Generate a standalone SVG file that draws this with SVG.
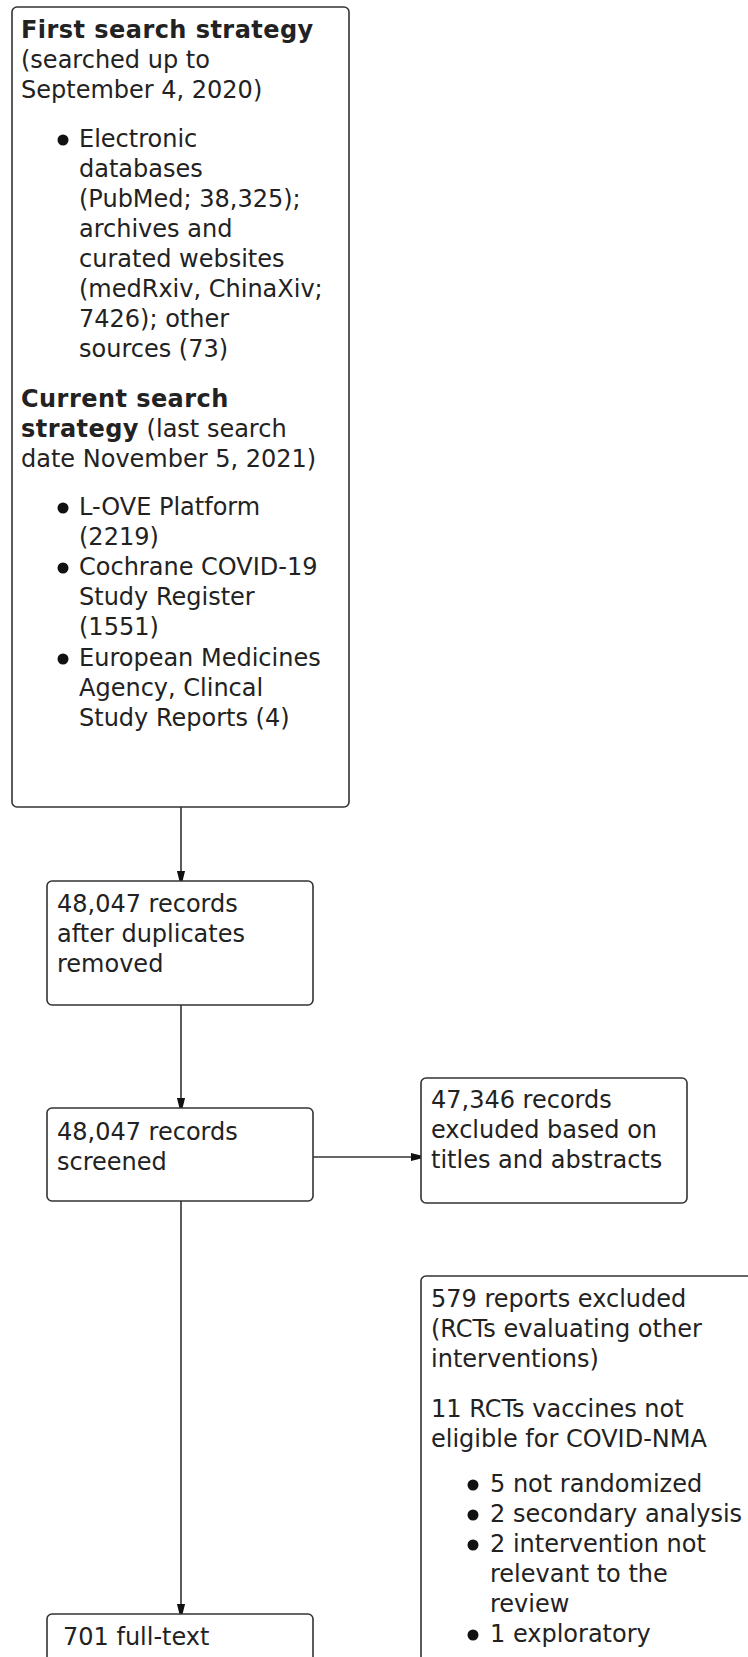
<svg xmlns="http://www.w3.org/2000/svg" width="748" height="1657" viewBox="0 0 748 1657">
<defs>
<style>
.box{fill:#fff;stroke:#333;stroke-width:1.6}
.t{font-family:"DejaVu Sans",Verdana,sans-serif;font-size:24px;fill:#222}
.b{font-weight:bold;letter-spacing:0.45px}
.dot{fill:#111}
.edge{fill:none;stroke:#333;stroke-width:1.6}
</style>
<marker id="ah" viewBox="0 0 10 10" refX="10" refY="5" markerWidth="6.5" markerHeight="6.5" orient="auto" markerUnits="strokeWidth">
<path d="M0,1 L10,3.5 L10,6.5 L0,9 Z" fill="#111"/>
</marker>
</defs>
<rect width="748" height="1657" fill="#fff"/>
<g id="connectors">
<line class="edge" x1="181" y1="807" x2="181" y2="881" marker-end="url(#ah)"/>
<line class="edge" x1="181" y1="1005" x2="181" y2="1108" marker-end="url(#ah)"/>
<line class="edge" x1="181" y1="1201" x2="181" y2="1614" marker-end="url(#ah)"/>
<line class="edge" x1="313" y1="1157" x2="421" y2="1157" marker-end="url(#ah)"/>
</g>
<g id="search">
<rect class="box" x="12" y="7" width="337" height="800" rx="5"/>
<text class="t b" x="21" y="38">First search strategy</text>
<text class="t" x="21" y="68">(searched up to</text>
<text class="t" x="21" y="98">September 4, 2020)</text>
<circle class="dot" cx="63" cy="140" r="5.5"/>
<text class="t" x="79" y="147">Electronic</text>
<text class="t" x="79" y="177">databases</text>
<text class="t" x="79" y="207">(PubMed; 38,325);</text>
<text class="t" x="79" y="237">archives and</text>
<text class="t" x="79" y="267">curated websites</text>
<text class="t" x="79" y="297">(medRxiv, ChinaXiv;</text>
<text class="t" x="79" y="327">7426); other</text>
<text class="t" x="79" y="357">sources (73)</text>
<text class="t b" x="21" y="407">Current search</text>
<text class="t" x="21" y="437"><tspan class="b">strategy</tspan> (last search</text>
<text class="t" x="21" y="467">date November 5, 2021)</text>
<circle class="dot" cx="63" cy="508" r="5.5"/>
<text class="t" x="79" y="515">L-OVE Platform</text>
<text class="t" x="79" y="545">(2219)</text>
<circle class="dot" cx="63" cy="568" r="5.5"/>
<text class="t" x="79" y="575">Cochrane COVID-19</text>
<text class="t" x="79" y="605">Study Register</text>
<text class="t" x="79" y="635">(1551)</text>
<circle class="dot" cx="63" cy="659" r="5.5"/>
<text class="t" x="79" y="666">European Medicines</text>
<text class="t" x="79" y="696">Agency, Clincal</text>
<text class="t" x="79" y="726">Study Reports (4)</text>
</g>
<g id="dedup">
<rect class="box" x="47" y="881" width="266" height="124" rx="5"/>
<text class="t" x="57" y="912">48,047 records</text>
<text class="t" x="57" y="942">after duplicates</text>
<text class="t" x="57" y="972">removed</text>
</g>
<g id="screened">
<rect class="box" x="47" y="1108" width="266" height="93" rx="5"/>
<text class="t" x="57" y="1140">48,047 records</text>
<text class="t" x="57" y="1170">screened</text>
</g>
<g id="excluded1">
<rect class="box" x="421" y="1078" width="266" height="125" rx="5"/>
<text class="t" x="431" y="1108">47,346 records</text>
<text class="t" x="431" y="1138">excluded based on</text>
<text class="t" x="431" y="1168">titles and abstracts</text>
</g>
<g id="excluded2">
<rect class="box" x="421" y="1276" width="360" height="420" rx="5"/>
<text class="t" x="431" y="1307">579 reports excluded</text>
<text class="t" x="431" y="1337">(RCTs evaluating other</text>
<text class="t" x="431" y="1367">interventions)</text>
<text class="t" x="431" y="1417">11 RCTs vaccines not</text>
<text class="t" x="431" y="1447">eligible for COVID-NMA</text>
<circle class="dot" cx="473" cy="1485" r="5.5"/>
<text class="t" x="490" y="1492">5 not randomized</text>
<circle class="dot" cx="473" cy="1515" r="5.5"/>
<text class="t" x="490" y="1522">2 secondary analysis</text>
<circle class="dot" cx="473" cy="1545" r="5.5"/>
<text class="t" x="490" y="1552">2 intervention not</text>
<text class="t" x="490" y="1582">relevant to the</text>
<text class="t" x="490" y="1612">review</text>
<circle class="dot" cx="473" cy="1635" r="5.5"/>
<text class="t" x="490" y="1642">1 exploratory</text>
</g>
<g id="fulltext">
<rect class="box" x="47" y="1614" width="266" height="100" rx="5"/>
<text class="t" x="63" y="1645">701 full-text</text>
</g>
</svg>
